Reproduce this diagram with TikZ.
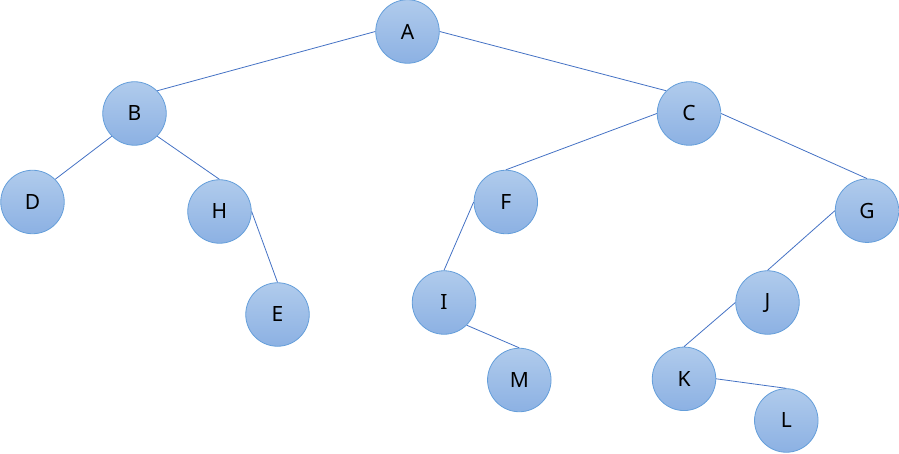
\documentclass[tikz,border=0pt]{standalone}
\usepackage{fontspec}
\setmainfont{Noto Sans}
\definecolor{topc}{RGB}{176,203,236}
\definecolor{botc}{RGB}{140,177,227}
\definecolor{rimc}{RGB}{100,158,218}
\definecolor{edgec}{RGB}{68,114,196}
\begin{document}
\begin{tikzpicture}[x=1pt,y=-1pt,
  tnode/.style={circle, minimum size=63.5pt, inner sep=0pt, draw=rimc, line width=0.8pt,
    top color=topc, bottom color=botc, font=\fontsize{21}{24}\selectfont, text=black},
  edge/.style={draw=edgec, line width=0.8pt}]
\useasboundingbox (0,0) rectangle (899,454);
\node[tnode] (A) at (407.5,31.5) {A};
\node[tnode] (B) at (134.5,113.5) {B};
\node[tnode] (C) at (689,113.5) {C};
\node[tnode] (D) at (32.5,202) {D};
\node[tnode] (H) at (219.5,211.5) {H};
\node[tnode] (F) at (505.8,202) {F};
\node[tnode] (G) at (867,210.7) {G};
\node[tnode] (E) at (277.5,314.5) {E};
\node[tnode] (I) at (444,302.5) {I};
\node[tnode] (J) at (767.5,302.5) {J};
\node[tnode] (M) at (519.3,380) {M};
\node[tnode] (K) at (684,378.8) {K};
\node[tnode] (L) at (786.3,420.5) {L};
\draw[edge] (A.west) -- (B.north east);
\draw[edge] (A.east) -- (C.north west);
\draw[edge] (B.south west) -- (D.north east);
\draw[edge] (B.south east) -- (H.north);
\draw[edge] (H.east) -- (E.north);
\draw[edge] (C.west) -- (F.north);
\draw[edge] (C.east) -- (G.north);
\draw[edge] (F.west) -- (I.north);
\draw[edge] (I.south east) -- (M.north);
\draw[edge] (G.west) -- (J.north);
\draw[edge] (J.west) -- (K.north);
\draw[edge] (K.east) -- (L.north);
\end{tikzpicture}
\end{document}
